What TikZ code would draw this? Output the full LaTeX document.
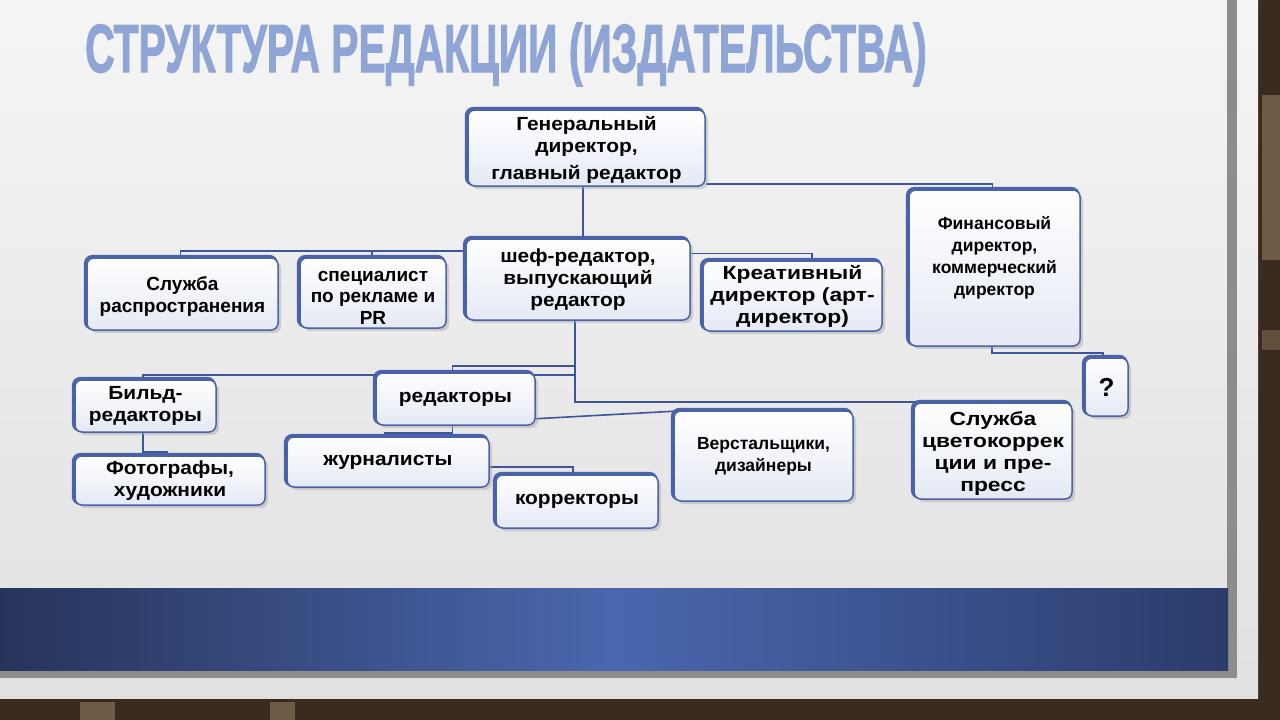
\documentclass[tikz,border=0pt]{standalone}
\usepackage{fontspec}
\setmainfont{Liberation Sans}
\newfontfamily\bxfont[FakeStretch=1.1]{Liberation Sans}
\newfontfamily\bxwide[FakeStretch=1.2]{Liberation Sans}
\newfontfamily\titlefont[FakeBold=2]{Liberation Sans Bold}
\usetikzlibrary{shadows}
\definecolor{bdr}{HTML}{4A62A8}
\definecolor{cline}{HTML}{3E5599}
\definecolor{titlec}{HTML}{8FA5D5}
\definecolor{boxbot}{HTML}{E4E9F4}
\definecolor{brick}{HTML}{3A2A1F}
\definecolor{brickl}{HTML}{6E5A45}
\definecolor{frameg}{HTML}{8C8C8C}
\definecolor{bandL}{HTML}{27345A}
\definecolor{bandM}{HTML}{4A67AE}
\definecolor{bandR}{HTML}{2B3C6C}
\pgfdeclarelayer{bg}\pgfdeclarelayer{conn}
\pgfsetlayers{bg,conn,main}
\tikzset{
 box/.style={draw=bdr, line width=1.5pt, rounded corners=7pt, top color=white, bottom color=boxbot,
   font=\bxfont\bfseries\fontsize{19}{22}\selectfont, align=center, inner sep=2pt,
   general shadow={shadow xshift=3pt, shadow yshift=-3pt, fill=black!35, opacity=0.45},
   general shadow={shadow xshift=-1.6pt, shadow yshift=1.6pt, draw=bdr, line width=3pt}},
 plainfont/.style={font=\bfseries\fontsize{17.5}{22}\selectfont},
 midfont/.style={font=\bfseries\fontsize{19}{21.5}\selectfont},
 widefont/.style={font=\bxwide\bfseries\fontsize{19}{22}\selectfont},
 conn/.style={draw=cline, line width=1.6pt},
}
\begin{document}
\begin{tikzpicture}[x=1pt,y=-1pt]
\useasboundingbox (0,0) rectangle (1280,720);
\begin{pgfonlayer}{bg}
 \fill[brick] (0,0) rectangle (1280,720);
 \fill[brickl] (1262,95) rectangle (1280,260);
 \fill[brickl!80!brick] (1262,330) rectangle (1280,350);
 \fill[brickl] (80,702) rectangle (115,720);
 \fill[brickl] (270,702) rectangle (295,720);
 \shade[top color=white!96!black, bottom color=white!88!black] (0,0) rectangle (1258,698);
 \fill[frameg] (1227,0) rectangle (1237,678);
 \fill[frameg] (0,670) rectangle (1237,678);
 \shade[left color=bandL, right color=bandR, middle color=bandM] (0,588) rectangle (1228,670);
\end{pgfonlayer}

% title
\node[anchor=base west, inner sep=0pt, text=titlec, font=\titlefont\fontsize{68}{68}\selectfont] (title) at (85,72)
  {\scalebox{0.6}[1]{СТРУКТУРА РЕДАКЦИИ (ИЗДАТЕЛЬСТВА)}};

% boxes
\node[box, minimum width=237pt, minimum height=76pt] (gen) at (586.5,148) {\rule{0pt}{17pt}Генеральный\\директор,\\[5pt]главный редактор};
\node[box, minimum width=224pt, minimum height=81pt] (chef) at (578,279.5) {шеф-редактор,\\выпускающий\\редактор};
\node[box, midfont, minimum width=191pt, minimum height=72pt] (sluzh) at (182.5,294) {\rule{0pt}{19pt}Служба\\распространения};
\node[box, midfont, minimum width=146pt, minimum height=70pt] (spec) at (373,293) {\rule{0pt}{19pt}специалист\\по рекламе и\\PR};
\node[box, widefont, minimum width=179pt, minimum height=70pt] (kreat) at (792.5,296) {Креативный\\директор (арт-\\директор)};
\node[box, plainfont, minimum width=171pt, minimum height=156pt] (fin) at (994.5,268) {Финансовый\\директор,\\коммерческий\\директор\\[2pt]~};
\node[box, minimum width=43pt, minimum height=58pt, font=\bfseries\fontsize{26}{26}\selectfont] (q) at (1106.5,387) {?};
\node[box, minimum width=141pt, minimum height=52pt] (bild) at (145.5,406) {Бильд-\\редакторы};
\node[box, minimum width=190pt, minimum height=49pt] (foto) at (170,480.5) {Фотографы,\\художники};
\node[box, minimum width=159pt, minimum height=52pt] (red) at (455.5,399) {редакторы};
\node[box, minimum width=202pt, minimum height=50pt] (zhur) at (388,462) {журналисты};
\node[box, minimum width=162pt, minimum height=53pt] (korr) at (577,501.5) {корректоры};
\node[box, plainfont, minimum width=179pt, minimum height=90pt] (verst) at (763.5,456) {Верстальщики,\\дизайнеры};
\node[box, widefont, minimum width=158pt, minimum height=96pt] (cvet) at (993,451) {\rule{0pt}{19pt}Служба\\цветокоррек\\ции и пре-\\пресс};

% connectors
\begin{pgfonlayer}{conn}
 \coordinate (t1) at (583,0);
 \coordinate (t2) at (575,0);
 \coordinate (jL) at (372,251);
 \draw[conn] (gen.south -| t1) -- (chef.north -| t1);
 \draw[conn] ([yshift=3pt]gen.south east) -| ([xshift=-2pt]fin.north);
 \draw[conn] (chef.west |- jL) -| ([xshift=-2pt]sluzh.north);
 \draw[conn] (jL) -- (jL |- spec.north);
 \draw[conn] ([yshift=26pt]chef.east) -| ([xshift=19.5pt]kreat.north);
 \draw[conn] (chef.south -| t2) -- (575,402) -| ([xshift=19pt]cvet.north);
 \draw[conn] (575,366) -| ([xshift=-3pt]red.north);
 \draw[conn] (575,375) -| ([xshift=-2.5pt]bild.north);
 \draw[conn] ([yshift=7pt]red.south east) -- ([yshift=-1pt]verst.north west);
 \draw[conn] ([xshift=-3pt]red.south) -- ++(0,7) -| ([xshift=-3pt]zhur.north);
 \draw[conn] ([yshift=-5pt]zhur.east) -| ([xshift=-4pt]korr.north);
 \draw[conn] ([xshift=-2.5pt]bild.south) -- ++(0,19) -| ([xshift=-3pt]foto.north);
 \draw[conn] ([xshift=-2.5pt]fin.south) -- ++(0,6) -| ([xshift=-3.5pt]q.north);
\end{pgfonlayer}
\end{tikzpicture}
\end{document}
